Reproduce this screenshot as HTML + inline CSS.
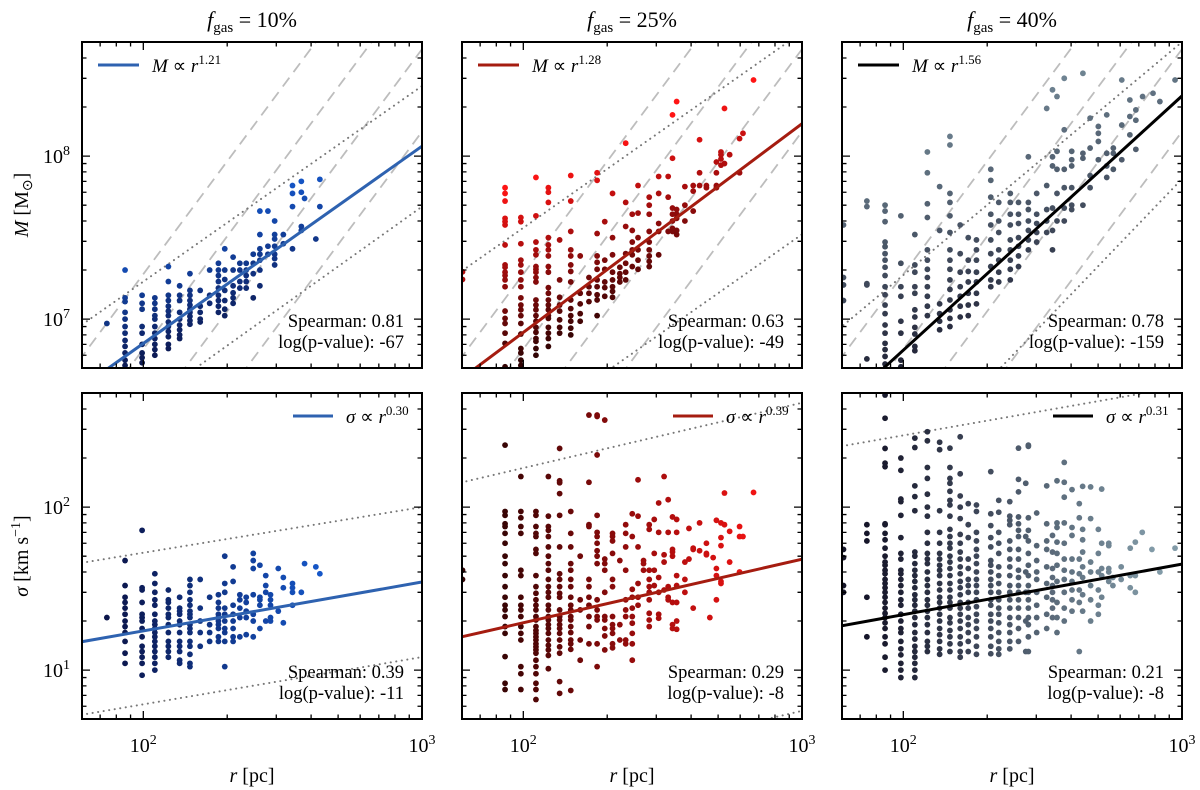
<!DOCTYPE html>
<html><head><meta charset="utf-8"><style>
html,body{margin:0;padding:0;background:#fff}
svg{display:block;font-family:"Liberation Serif",serif}
</style></head><body>
<svg id="fig" width="1200" height="790" viewBox="0 0 1200 790" xmlns="http://www.w3.org/2000/svg"></svg>
<script>
// ===== data (columns: r in pc, values per column) =====
const p1TopR=[74,86,99,110,123,135,147,160,173,186,196,210,222,234,248,262,280,296,318,343,369,379,416,430];
const p1TopM=[[9.4],[20,13.5,12.8,11,10,9,8.2,7.4,6.8,6.2,5.6,5.2],[14,12.5,11.5,9,8.2,7,6.2,5.8,5.4],[13.5,12.5,11.5,10.5,10,9,8.2,7.6,7,6.5,6],[21,17,14,13,12,11.2,10.5,9.6,9,8.4,7.8,7,6.6],[16,14,13,11,10,9.2,8.6,8,7.6],[19,15,14,13,12.2,11.5,11,10.4,9.8,9.3],[15,12,11,10,9.6],[20,14,12.5],[22,20,18.5,17,15.5,14,13,12,11],[27,20,17.5,15,13,11.5,10.5],[24,20,16,14.5,13.5,12.5],[22,20,17,15.5],[22,20,18.5,17,15.5],[25,22,19,13.5],[46,33,27,25,23,20,16],[46,28,25],[40,33,31,28,25,23.5,21.5],[33,29],[66,59,49,27],[70,60,37,35],[55],[31],[72,49]];
const p1BotR=[74,86,99,110,123,135,147,160,173,186,196,210,222,234,248,262,275,286,305,318,343,369,379,416,430];
const p1BotS=[[21],[47,33,28,26,24,22,20,18.5,17,15,12.7,11],[72,32,31,26,22,21,20,18,16,14,13,12,11,9.3],[39,34,30,27,25,22,20,19,18,17,16,15,14,13,12,11,10],[31,27,26,24,22,21,19,17,15,14,13,12],[28,24,23,22,20,19,17,15,14,13,11.5,11],[36,33,30,27,25,23,22,21,19,18,17,15,14,12.5,11,10.5],[36,24,20,17,14],[28,19,17,15],[29,26,24,22,21,20,19,18,16,15],[50,34,30,24,22,20,18,17,15,10.5],[43,35,25,22,20,18,16,15],[29,27,24,21,16],[28,26,23,21,16.5],[52,47,42,29,22,20,16],[44,28,27,25,18],[38,33,30,20],[29,27,25,21,20],[42,23],[37,32,19.5],[34,32,30,25],[30],[45],[43],[39]];
const p2TopR=[60.5,86,98,111,123,135,148,160,172,184,196,209,222,233,246,258,283,306,331,343,355,380,407,429,454,493,512,527,550,597,614,670];
const p2TopM=[[19.5,17.5],[64,59,53,41.5,39.6,37.8,28.5,21.5,20.8,19.4,18.5,17.4,15.8,11.2,10.1,9.4,8.2,7.1,5.1],[42,39.6,29,23,21.5,19.4,17.4,15.8,13.5,12.2,11.4,10.5,9.4,8.1,6.6,6.2,5.6,5.2],[74,43,29.7,26.6,24.8,21,20.2,19.4,18,16.9,13.1,12.2,11.4,10.5,9.7,8.9,8.3,7.6,7.3,6.6,6.0],[64,60,52,31.6,28.5,26.6,24.4,21,19.4,15.6,14.4,13.1,12.2,11.4,10.5,10.1,8.9,8.2,7.6,6.8],[30.6,17.4,13.6,12.2,11.2,9.9,8.9,8.2],[76,53,34.5,26.6,24.4,21.5,19.6,16.9,13.1,11.6,10.5,9.7,8.8,8.0],[24.4,14.4,12.4,10.8,9.7],[18,15.8,14.4,12.8],[79,71,33.5,24.4,22.3,20.2,17.4,15.8,14.1,13.1,10.5],[39.6,23,20.2,16.9,15.6,13.8],[59,31.6,24.8,19.4,17.4,15.8,14.8,13.6],[20.8,19,18,16.9],[120,52,37,25.2,22,19.4,17.4],[44,35,29.7,26.6,24.8,21],[66,44.7,31.6,26.6,23,20.2],[56,50,44,34.5,29.7,26.6,24.4,22.6,21],[75,59,38.6,34.5,24.8],[75,56,34.5],[179,97,48,44,40,36,34.5],[216,47,44,41.5,35,33],[65,50,40],[66,61,46],[126,79,66],[66,64],[92,79,66,64],[106,102,96,88],[196,90],[102],[128,79],[138],[293]];
const p2BotR=[60.5,86,98,111,123,135,148,160,172,184,196,209,222,233,246,258,270,283,295,306,320,331,343,355,380,393,407,429,454,467,480,493,512,527,550,597,614,670];
const p2BotS=[[41,36],[240,94,89,79,76,69,60,50,45,38,32.5,28,25,23.4,21.3,18.5,16.8,12.1,8.3,7.6],[154,94,86,76,69,41,38,28,25,23.4,21.3,18.5,16.8,15.3,10.5,9.5,7.6],[94,89,76,69,66,55,52,38,32.5,29.6,27,25,23.4,21.3,20.3,18.5,17.5,16.8,16,15.3,14.5,13.9,13.3,12.7,11.5,10.5,9.5,8.3,7.6,6.6],[154,88,76,72,66,57,50,45,41,36,32.5,30,28,25,23.4,21.3,20.3,19,18,16.8,15.3,14.2,13.3,12.3,10.2],[229,145,141,121,89,57,39,36,32.5,29.6,28,23.4,21.3,20.3,19,18,16.8,15.3,13.9,12.7,8.5,7.2],[94,69,57,45,41,36,32.5,28,25,23.4,21.3,20.3,18.5,17,15.3,14.5,13.4,7.5],[50,27,23.4,15.3,11.5],[367,142,78,76,36,32.5,28,25,21.3,18.5,14.5],[367,360,209,89,70,66,60,54,50,45,27,23.4,21.3,20.3,14.5,10.5],[342,48,45,41,30,21.3,20.3,18,16.2,13.3],[69,66,62,52,36,32.5,21.3,19,18,16.8,14.5,13.7],[47,19,15.3],[78,69,57,41,27,23.4,21.3,15.3,14.5],[91,66,31.3,28,24,21.3,19.4,16.8,14.5,11.5],[147,88,57,34,28,25],[47,45,41],[78,73,41,36,32.5,30,27,22.3,20.3,18.5],[84,52,41,33],[106,70,37,30,22,20.8],[154,46,51,31],[111,70,32.5,28,27],[87,55,53,50,26,19,18],[84,70,38,33,26,20,17.8],[46,36,30],[74,48],[55,56,24],[80,54],[60,52,51],[21],[49],[83,42,38,27],[80,65,58,35,34],[122,78],[71,46],[76,66,40],[66],[123]];
const p3TopR=[61,74,86,98,110,122,135,147,160,171,183,206,220,242,259,281,301,327,343,356,378,402,441,468,501,537,567,608,650,683,722,787,833,944];
const p3TopM=[[37.8,18,16.2,13],[53,49,16.5,16.2,5.7],[50,46,39.6,29.7,27.8,25.2,23,20.8,18.5,15.8,14.1,12.2,10.8,9.2,8.2,7.1,6.5,5.9,5.3],[43,22,15.8,13.8,9.7,8.2,5.6,5.1],[33,21.5,19.4,15.8,14.4,11.4,10.3,8.9,8.1,6.8,6.4],[106,79,51,42,26.6,23,20.2,18,15.8,13.8,12,10.5],[65,35,12.4,10.8,9.7,8.6],[132,117,59,52,43,34,26.6,23,20.2,17.4,15.2,13.1,11.4,10.1,9],[37.8,25.2,19.4,15.8,13.8,12,10.3],[31.6,23,19.6,16.9,14.4,12.2,10.5],[30.6,26.6,23,19.4,16.9,14.4,12.4],[83,71,56,44,37.8,30.6,25.2,21,17.4,15.8],[52,40,34,26.6,23,19.4,16.9],[59,52,44,37.8,30.6,26.6,23,20.2,17.4],[52,44,38.6,31.6,28,24.4,21],[99,52,47,40,35,30.6,26.6],[59,44,38.6,34,29.7],[196,66,47,40,34],[255,99,87,48,35,26.6],[232,107,83,59,40],[300,145,83,64,48,40],[107,95,87,64,50,47],[322,104,97,50],[171,112,76,64],[152,138,123,95],[179,104,87,74],[112,104,83],[293,155,95],[221,175,135],[192,166,110],[232],[243],[216],[293]];
const p3BotR=[61,74,86,98,110,122,135,147,160,171,183,206,220,241,259,275,281,301,327,343,356,378,403,428,440,470,501,515,546,565,605,652,680,720,780,833,944];
const p3BotS=[[55,49,33,30],[78,69,62,28,16],[487,351,229,186,177,79,78,69,63,56,50,46,44,41,39,36,34,32,30,28,26,24,22.3,21,19.5,18,16,14.5,12,10],[200,168,112,108,89,65,52,48,41,39,36,33,30,27,25,22,20,18,17,15,13.5,12.4,11,10,9],[265,232,135,116,95,53,50,45,41,38,35,32,29,27,25,23,21,19,17,15.5,14,13,12,11,10,9],[290,255,175,150,120,100,88,70,60,52,48,45,40,36,33,30,27,25,23,21,19,17,15,14,13],[250,225,95,70,60,52,48,44,41,38,34,31,28,26,24,22,20,18,16.5,15,13.5,12.5],[230,175,150,140,125,110,103,88,73,66,60,56,50,46,42,38,34,31,28,26,24,21,19.5,17.5,16,14.5,13],[270,160,117,100,85,68,60,53,48,43,39,35,32,29,26,24,22,20,18,16,14.5,13,12],[105,78,65,48,42,36,33,30,26,24,21,19,17,15,13],[103,94,70,62,55,50,45,40,36,33,30,27,24.5,22,20,18,16,14,12.5],[165,91,77,65,57,47,44,40,36,33,30,27,25,22,20,18,16,14,12.6],[110,93,70,60,52,43,38,34,30,27,24,22,19.5,17,15,13.5,12.5],[108,88,83,78,62,55,48,43,38,33,30,27,24,21,19,17,15,13.5],[230,148,124,87,79,72,66,55,48,41,37,33,30,27,24,21,18,15],[140,66,40,30,20,13],[240,236,86,72,62,52,44,38,33,30,27,24,21,19,16,13],[92,58,47,40,36,30,25,21,17],[135,79,62,55,43,34,28,22,18],[67,53,42,37,33,30,27,24,21],[145,80,75,61,52,44,35,26,21,17],[188,142,115,80,60,48,41,36,30,24,20],[128,75,67,48,40,35,31,27,23],[105,86,48,39,31,26,13],[134,73,63,53,43,37,29,23],[133,85,46,40,33,27,20],[73,52,40,31,25,22],[129,60,42,38,28],[60,58,42,40,35],[37,33],[43,36],[56,38,32],[61,38,30],[70],[55],[40],[56]];
// fit exponents and labels
const fitExpTop=[1.21,1.28,1.56];
const fitNormTop=[1.15e8,1.58e8,2.34e8];   // M at r=1000 pc
const fitExpBot=[0.30,0.39,0.31];
const fitNormBot=[34.7,47.9,44.7];         // sigma at r=1000 pc
const spearTop=["0.81","0.63","0.78"], pvalTop=["-67","-49","-159"];
const spearBot=["0.39","0.29","0.21"], pvalBot=["-11","-8","-8"];
const fgasLabels=["10%","25%","40%"];

// ===== layout =====
const NS="http://www.w3.org/2000/svg";
const svg=document.getElementById('fig');
const PX=[82,462,842], PW=340, TOPY=42, BOTY=393, PH=326;
const XMIN=1.78, XMAX=3.0;
const TYMIN=6.70, TYMAX=8.70, BYMIN=0.70, BYMAX=2.70;
const colsLo=[[12,22,75],[50,4,4],[22,22,42]];
const colsHi=[[25,110,245],[255,20,20],[130,155,168]];
function mk(tag,attrs,parent){const e=document.createElementNS(NS,tag);for(const k in attrs)e.setAttribute(k,attrs[k]);(parent||svg).appendChild(e);return e;}
function xs(p,lr){return PX[p]+(lr-XMIN)/(XMAX-XMIN)*PW;}
function ys(row,ly){const y0=row?BOTY:TOPY,mn=row?BYMIN:TYMIN,mx=row?BYMAX:TYMAX;return y0+(mx-ly)/(mx-mn)*PH;}
function clamp(t){return Math.max(0,Math.min(1,t));}
function col(p,t){const a=colsLo[p],b=colsHi[p];return 'rgb('+a.map((v,i)=>Math.round(v+(b[i]-v)*t)).join(',')+')';}

const defs=mk('defs',{});
for(let p=0;p<3;p++)for(let row=0;row<2;row++){
  const cp=mk('clipPath',{id:'c'+p+row},defs);
  mk('rect',{x:PX[p],y:row?BOTY:TOPY,width:PW,height:PH},cp);
}

const dotTop=[[[1.2,8.43],[1.22,7.69]],[[1.2,8.76],[1.2,7.52]],[[1.43,8.70],[1.78,7.86]]];
const dotBot=[[[0.28,2.0],[0.29,1.08]],[[0.4,2.64],[0.4,0.75]],[[0.3,2.74],[0.3,0.45]]];
const dashCross=[1.88,2.08,2.28,2.50];
const dashSlope=2.3;

function line(p,row,x1,y1,x2,y2,st,name){
  const l=mk('line',Object.assign({x1:xs(p,x1),y1:ys(row,y1),x2:xs(p,x2),y2:ys(row,y2),'clip-path':'url(#c'+p+row+')'},st));
  
  
  return l;
}
const dashSt={stroke:'#bdbdbd','stroke-width':1.8,'stroke-dasharray':'11,7',fill:'none'};
const dotSt={stroke:'#777','stroke-width':2,'stroke-dasharray':'0.1,5.5','stroke-linecap':'round',fill:'none'};

const sets=[[p1TopR,p1TopM,p1BotR,p1BotS],[p2TopR,p2TopM,p2BotR,p2BotS],[p3TopR,p3TopM,p3BotR,p3BotS]];
const lineCols=['#2e62b0','#a51c10','#000'];

for(let p=0;p<3;p++){
  for(const c of dashCross){
    line(p,0,c+(6.3-7)/dashSlope,6.3,c+(9.2-7)/dashSlope,9.2,dashSt,'virial-dashed-line');
  }
  for(const d of dotTop[p]) line(p,0,1.6,d[1]-d[0]*1.4,3.1,d[1]+d[0]*0.1,dotSt,'reference-dotted-line');
  for(const d of dotBot[p]) line(p,1,1.6,d[1]-d[0]*1.4,3.1,d[1]+d[0]*0.1,dotSt,'reference-dotted-line');
  const [tr,tm,br,bs]=sets[p];
  const gT=mk('g',{'clip-path':'url(#c'+p+'0)'});
  
  
  const fitT=lr=>Math.log10(fitNormTop[p])+fitExpTop[p]*(lr-3);
  tr.forEach((r,i)=>{const lr=Math.log10(r);tm[i].forEach(m=>{const lm=Math.log10(m*1e6);
    const t=clamp(0.1+0.45*(lr-1.9)/0.9+(p==2?0.5:0.9)*(lm-fitT(lr)));
    const c=mk('circle',{cx:xs(p,lr),cy:ys(0,lm),r:2.9,fill:col(p,t)},gT);
    
    });});
  const gB=mk('g',{'clip-path':'url(#c'+p+'1)'});
  
  
  br.forEach((r,i)=>{const lr=Math.log10(r);bs[i].forEach(s=>{const ls=Math.log10(s);
    const t=clamp(0.05+0.85*(lr-1.95)/0.85);
    const c=mk('circle',{cx:xs(p,lr),cy:ys(1,ls),r:2.9,fill:col(p,t)},gB);
    
    });});
  const lt=Math.log10(fitNormTop[p]), lb=Math.log10(fitNormBot[p]);
  line(p,0,1.6,lt-fitExpTop[p]*1.4,3.0,lt,{stroke:lineCols[p],'stroke-width':3,fill:'none'},'mass-fit-line');
  line(p,1,1.6,lb-fitExpBot[p]*1.4,3.0,lb,{stroke:lineCols[p],'stroke-width':3,fill:'none'},'dispersion-fit-line');

  for(let row=0;row<2;row++){
    const y0=row?BOTY:TOPY;
    const fr=mk('rect',{x:PX[p],y:y0,width:PW,height:PH,fill:'none',stroke:'#000','stroke-width':2});
    
    
    for(let dec=1;dec<=3;dec++)for(let k=1;k<=9;k++){
      const lr=dec+Math.log10(k); if(lr<XMIN||lr>XMAX+1e-9) continue;
      const x=xs(p,lr), L=k===1?8:4.5;
      const tk=mk('path',{d:`M${x},${y0+PH}v${-L}M${x},${y0}v${L}`,stroke:'#000','stroke-width':1.3});
      
      
    }
    const mn=row?BYMIN:TYMIN,mx=row?BYMAX:TYMAX;
    for(let dec=0;dec<=9;dec++)for(let k=1;k<=9;k++){
      const ly=dec+Math.log10(k); if(ly<mn||ly>mx) continue;
      const y=ys(row,ly), L=k===1?8:4.5;
      const tk=mk('path',{d:`M${PX[p]},${y}h${L}M${PX[p]+PW},${y}h${-L}`,stroke:'#000','stroke-width':1.3});
      
      
    }
    const xr=PX[p]+PW-18;
    const t1=mk('text',{x:xr,y:y0+PH-41,'text-anchor':'end','font-size':18.5});
    t1.textContent='Spearman: '+(row?spearBot[p]:spearTop[p]);
    
    
    const t2=mk('text',{x:xr,y:y0+PH-20,'text-anchor':'end','font-size':18.5});
    t2.textContent='log(p-value): '+(row?pvalBot[p]:pvalTop[p]);
    
    
  }
  const lg1=mk('line',{x1:PX[p]+16,x2:PX[p]+57,y1:65,y2:65,stroke:lineCols[p],'stroke-width':3});
  
  
  const lt1=mk('text',{x:PX[p]+70,y:72,'font-size':19});
  lt1.innerHTML='<tspan font-style="italic">M</tspan> ∝ <tspan font-style="italic">r</tspan><tspan font-size="13" dy="-8">'+fitExpTop[p].toFixed(2)+'</tspan>';
  
  
  const lg2=mk('line',{x1:PX[p]+211,x2:PX[p]+251,y1:416,y2:416,stroke:lineCols[p],'stroke-width':3});
  
  
  const lt2=mk('text',{x:PX[p]+264,y:423,'font-size':19});
  lt2.innerHTML='<tspan font-style="italic">σ</tspan> ∝ <tspan font-style="italic">r</tspan><tspan font-size="13" dy="-8">'+fitExpBot[p].toFixed(2)+'</tspan>';
  
  
  const ti=mk('text',{x:PX[p]+PW/2,y:27,'text-anchor':'middle','font-size':22});
  ti.innerHTML='<tspan font-style="italic">f</tspan><tspan font-size="15" dy="5">gas</tspan><tspan dy="-5"> = '+fgasLabels[p]+'</tspan>';
  
  
  for(const d of [2,3]){
    const tx=mk('text',{x:xs(p,d),y:752,'text-anchor':'middle','font-size':20});
    tx.innerHTML='10<tspan font-size="14" dy="-8">'+d+'</tspan>';
    
    
  }
  const xl=mk('text',{x:PX[p]+PW/2,y:782,'text-anchor':'middle','font-size':20});
  xl.innerHTML='<tspan font-style="italic">r</tspan> [pc]';
  
  
}
for(const [row,d] of [[0,8],[0,7],[1,2],[1,1]]){
  const tx=mk('text',{x:70,y:ys(row,d)+7,'text-anchor':'end','font-size':20});
  tx.innerHTML='10<tspan font-size="14" dy="-8">'+d+'</tspan>';
  
  
}
const yl1=mk('text',{x:0,y:0,'text-anchor':'middle','font-size':20,transform:'translate(28,205) rotate(-90)'});
yl1.innerHTML='<tspan font-style="italic">M</tspan> [M<tspan font-size="14" dy="4">⊙</tspan><tspan dy="-4">]</tspan>';


const yl2=mk('text',{x:0,y:0,'text-anchor':'middle','font-size':20,transform:'translate(28,556) rotate(-90)'});
yl2.innerHTML='<tspan font-style="italic">σ</tspan> [km s<tspan font-size="14" dy="-8">−1</tspan><tspan dy="8">]</tspan>';


</script>
</body></html>
